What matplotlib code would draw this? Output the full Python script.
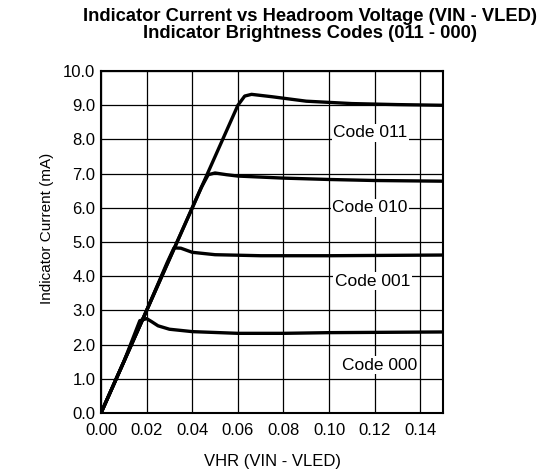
import numpy as np
import matplotlib
matplotlib.use("Agg")
import matplotlib.pyplot as plt

plt.rcParams['font.family'] = ['Liberation Sans', 'DejaVu Sans']

# ---------------------------------------------------------------------
# Data
# ---------------------------------------------------------------------
x_011 = [0, 0.010, 0.020, 0.030, 0.040, 0.050, 0.057, 0.060, 0.063, 0.066, 0.075, 0.090, 0.110, 0.130, 0.150]
y_011 = [0, 1.5, 3.0, 4.5, 6.0, 7.5, 8.55, 9.0, 9.27, 9.32, 9.25, 9.12, 9.05, 9.02, 9.0]

x_010 = [0, 0.010, 0.020, 0.030, 0.040, 0.044, 0.047, 0.050, 0.055, 0.060, 0.080, 0.100, 0.120, 0.150]
y_010 = [0, 1.5, 3.0, 4.5, 6.0, 6.6, 6.97, 7.02, 6.97, 6.93, 6.87, 6.83, 6.80, 6.78]

x_001 = [0, 0.010, 0.020, 0.029, 0.032, 0.035, 0.040, 0.050, 0.070, 0.100, 0.150]
y_001 = [0, 1.5, 3.0, 4.4, 4.83, 4.82, 4.7, 4.63, 4.6, 4.6, 4.62]

x_000 = [0, 0.010, 0.017, 0.020, 0.022, 0.025, 0.030, 0.040, 0.060, 0.080, 0.100, 0.150]
y_000 = [0, 1.5, 2.7, 2.76, 2.68, 2.55, 2.45, 2.38, 2.33, 2.33, 2.35, 2.37]

codes = ["Code 011", "Code 010", "Code 001", "Code 000"]
label_x = [0.118, 0.118, 0.119, 0.122]
label_y = [8.2, 6.0, 3.85, 1.4]

x_ticks = [0.00, 0.02, 0.04, 0.06, 0.08, 0.10, 0.12, 0.14]
y_ticks = [0.0, 1.0, 2.0, 3.0, 4.0, 5.0, 6.0, 7.0, 8.0, 9.0, 10.0]

# ---------------------------------------------------------------------
# Figure
# ---------------------------------------------------------------------
fig = plt.figure(figsize=(5.56, 4.74), dpi=100)
ax = fig.add_axes([0.1817, 0.1287, 0.6153, 0.7213])

for xs, ys in [(x_011, y_011), (x_010, y_010), (x_001, y_001), (x_000, y_000)]:
    ax.plot(xs, ys, color="black", lw=2.4, solid_capstyle="round",
            solid_joinstyle="round", zorder=3)

for txt, lx, ly in zip(codes, label_x, label_y):
    ax.text(lx, ly, txt, ha="center", va="center", fontsize=12.5,
            bbox=dict(facecolor="white", edgecolor="none", pad=1.0), zorder=4)

ax.set_xlim(0, 0.15)
ax.set_ylim(0, 10)
ax.set_xticks(x_ticks)
ax.set_yticks(y_ticks)
ax.set_xticklabels([f"{v:.2f}" for v in x_ticks], fontsize=12)
ax.set_yticklabels([f"{v:.1f}" for v in y_ticks], fontsize=12)
ax.tick_params(axis="x", length=0, pad=7)
ax.tick_params(axis="y", length=0, pad=4)
ax.grid(True, color="black", lw=0.9)
ax.set_axisbelow(True)
for s in ax.spines.values():
    s.set_linewidth(1.5)

ax.set_xlabel("VHR (VIN - VLED)", fontsize=12, labelpad=12)
ax.set_ylabel("Indicator Current (mA)", fontsize=11)
ax.yaxis.set_label_coords(-0.137, 0.54)

fig.text(0.558, 0.966, "Indicator Current vs Headroom Voltage (VIN - VLED)",
         ha="center", va="center", fontsize=13.2, fontweight="bold")
fig.text(0.558, 0.930, "Indicator Brightness Codes (011 - 000)",
         ha="center", va="center", fontsize=13.2, fontweight="bold")

fig.savefig("out.png", dpi=100)
